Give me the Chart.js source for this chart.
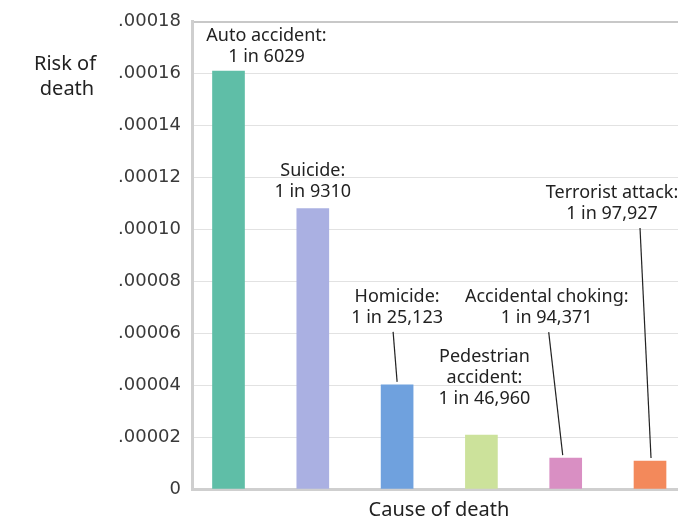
<!DOCTYPE html>
<html>
<head>
<meta charset="utf-8">
<script src="https://cdn.jsdelivr.net/npm/chart.js@4"></script>
<style>
  html, body { margin: 0; padding: 0; background: #fff; overflow: hidden; }
  canvas { display: block; }
</style>
</head>
<body>
<canvas id="chart" width="678" height="520"></canvas>
<script>
const causes = ['Auto accident:', 'Suicide:', 'Homicide:', 'Pedestrian\naccident:', 'Accidental choking:', 'Terrorist attack:'];
const odds = ['1 in 6029', '1 in 9310', '1 in 25,123', '1 in 46,960', '1 in 94,371', '1 in 97,927'];
const risk = [0.000161, 0.000108, 0.0000401, 0.0000208, 0.0000119, 0.0000108];
const barColors = ['#5fbea7', '#aab0e2', '#6fa1de', '#cce29b', '#d98fc3', '#f3895b'];

// where each label sits, relative to the top of its bar (px)
const labelLayout = [
    { dx: 38, dy: -35 },
    { dx: 0, dy: -38 },
    { dx: 0, dy: -88, leader: { sx: -4, ex: 0 } },
    { dx: 3, dy: -57 },
    { dx: -19, dy: -161, leader: { sx: 2, ex: -3 } },
    { dx: -38, dy: -268, leader: { sx: 28, ex: 1 } },
];

const LABEL_FONT = '18px "Noto Sans"';
const TITLE_FONT = '20px "Noto Sans"';
const TEXT_COLOR = '#222';

const annotations = {
    id: 'annotations',
    afterDatasetsDraw(chart) {
        const ctx = chart.ctx;
        const bars = chart.getDatasetMeta(0).data;
        ctx.save();
        ctx.font = LABEL_FONT;
        ctx.fillStyle = TEXT_COLOR;
        ctx.strokeStyle = TEXT_COLOR;
        ctx.textAlign = 'center';
        ctx.textBaseline = 'middle';
        bars.forEach((bar, i) => {
            const lay = labelLayout[i];
            const lines = causes[i].split('\n').concat(odds[i]);
            const cx = bar.x + lay.dx;
            let y = bar.y + lay.dy - (lines.length - 2) * 21;
            lines.forEach((line) => {
                ctx.fillText(line, cx, y);
                y += 21;
            });
            if (lay.leader) {
                ctx.lineWidth = 1.2;
                ctx.beginPath();
                ctx.moveTo(cx + lay.leader.sx, y - 7);
                ctx.lineTo(bar.x + lay.leader.ex, bar.y - 3);
                ctx.stroke();
            }
        });

        // axis titles
        ctx.font = TITLE_FONT;
        ctx.fillText('Risk of', 65, 64);
        ctx.fillText('death', 67, 89);
        ctx.fillText('Cause of death', 439, 510);
        ctx.restore();
    }
};

new Chart(document.getElementById('chart'), {
    type: 'bar',
    data: {
        datasets: [{
            data: risk.map((v, i) => ({ x: i, y: v })),
            backgroundColor: barColors,
            barThickness: 32,
        }]
    },
    options: {
        responsive: false,
        animation: false,
        devicePixelRatio: 1,
        layout: { padding: { top: 19, right: 0, bottom: 0, left: 0 } },
        plugins: {
            legend: { display: false },
            tooltip: { enabled: false },
        },
        scales: {
            x: {
                type: 'linear',
                offset: false,
                min: -0.433,
                max: 5.332,
                ticks: { display: false },
                grid: { display: false },
                border: { display: true, color: '#cfcfcf', width: 3 },
                afterFit: (scale) => { scale.height = 31; },
            },
            y: {
                min: 0,
                max: 0.00018,
                ticks: {
                    stepSize: 0.00002,
                    padding: 11,
                    color: '#3a3a3a',
                    font: { family: 'DejaVu Sans', size: 18 },
                    callback: (v) => v === 0 ? '0' : v.toFixed(5).replace(/^0/, ''),
                },
                grid: {
                    drawTicks: false,
                    color: (c) => c.index === 9 ? '#c8c8c8' : '#e2e2e2',
                    lineWidth: (c) => c.index === 9 ? 2 : 1,
                },
                border: { display: true, color: '#cfcfcf', width: 3 },
                afterFit: (scale) => { scale.width = 192; },
            }
        }
    },
    plugins: [annotations],
});
</script>
</body>
</html>
